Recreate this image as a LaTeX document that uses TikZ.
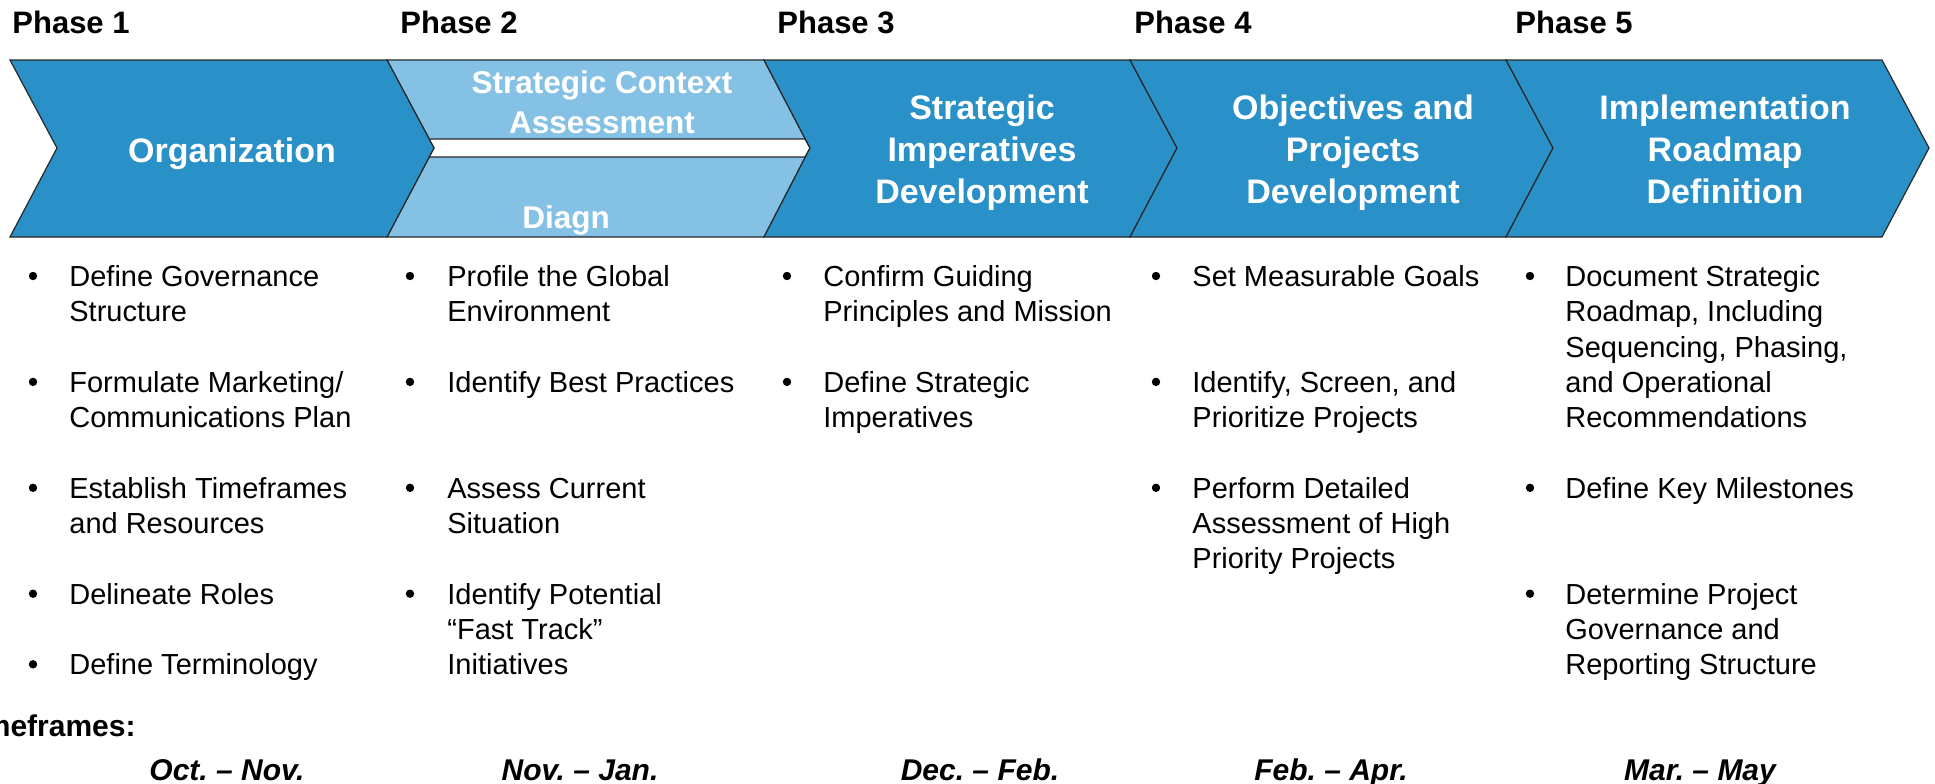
\documentclass[tikz,border=0pt]{standalone}
\usepackage{fontspec}
\setmainfont{Liberation Sans}
\definecolor{phase_blue}{RGB}{41,144,200}
\definecolor{phase_light}{RGB}{132,193,229}
\definecolor{edge_gray}{RGB}{40,40,40}

\begin{document}
\frenchspacing
\begin{tikzpicture}[x=0.5pt,y=-0.5pt]
    \tikzstyle{chev}=[draw=edge_gray, line width=0.6pt, fill=phase_blue]
    \tikzstyle{lite}=[style=chev, fill=phase_light]
    \tikzstyle{title}=[anchor=north, align=center, inner sep=0pt, text=white, font=\bfseries\fontsize{17}{21}\selectfont]
    \tikzstyle{subtitle}=[style=title, font=\bfseries\fontsize{15.75}{20}\selectfont]
    \tikzstyle{phase}=[anchor=base west, inner sep=0pt, font=\bfseries\fontsize{15.5}{18}\selectfont]
    \tikzstyle{dot}=[circle, fill=black, inner sep=0pt, minimum size=4.2pt]
    \tikzstyle{item}=[anchor=north west, align=left, inner sep=0pt, font=\fontsize{14.5}{17.65}\selectfont]
    \tikzstyle{when}=[anchor=base, inner sep=0pt, font=\bfseries\itshape\fontsize{15}{18}\selectfont]

    \useasboundingbox (0,0) rectangle (1935,783);

    \node[phase] (ph1) at (12,33)   {Phase 1};
    \node[phase] (ph2) at (400,33)  {Phase 2};
    \node[phase] (ph3) at (777,33)  {Phase 3};
    \node[phase] (ph4) at (1134,33) {Phase 4};
    \node[phase] (ph5) at (1515,33) {Phase 5};

    \draw[lite] (387,60) -- (764,60) -- (810,148) -- (764,237) -- (387,237) -- (434,148) -- cycle;
    \draw[fill=white, draw=edge_gray, line width=0.6pt]
      (429,139) -- (805,139) -- (810,148) -- (805,157) -- (429,157) -- (434,148) -- cycle;
    \draw[chev] (10,60) -- (387,60) -- (434,148) -- (387,237) -- (10,237) -- (57,148) -- cycle;
    \draw[chev] (764,60) -- (1130,60) -- (1177,148) -- (1130,237) -- (764,237) -- (810,148) -- cycle;
    \draw[chev] (1130,60) -- (1506,60) -- (1553,148) -- (1506,237) -- (1130,237) -- (1177,148) -- cycle;
    \draw[chev] (1506,60) -- (1882,60) -- (1929,148) -- (1882,237) -- (1506,237) -- (1553,148) -- cycle;

    \node[title]    (org)  at (232,133)  {\strut Organization};
    \node[subtitle] (ctx)  at (602,65)   {\strut Strategic Context\\Assessment};
    \node[anchor=base west, inner sep=0pt, text=white, font=\bfseries\fontsize{15.75}{20}\selectfont]
                    (diag) at (522,228)  {Diagn};
    \node[title]    (imp)  at (982,90)   {\strut Strategic\\Imperatives\\Development};
    \node[title]    (obj)  at (1353,90)  {\strut Objectives and\\Projects\\Development};
    \node[title]    (road) at (1725,90)  {\strut Implementation\\Roadmap\\Definition};

    \node[dot]  (d1a) at (33,276)      {};
    \node[item] (i1a) at (69,261.3)    {\strut Define Governance\\Structure};
    \node[dot]  (d1b) at (33,381.9)    {};
    \node[item] (i1b) at (69,367.2)    {\strut Formulate Marketing/\\Communications Plan};
    \node[dot]  (d1c) at (33,487.8)    {};
    \node[item] (i1c) at (69,473.1)    {\strut Establish Timeframes\\and Resources};
    \node[dot]  (d1d) at (33,593.7)    {};
    \node[item] (i1d) at (69,579)      {\strut Delineate Roles};
    \node[dot]  (d1e) at (33,664.3)    {};
    \node[item] (i1e) at (69,649.6)    {\strut Define Terminology};

    \node[dot]  (d2a) at (410,276)     {};
    \node[item] (i2a) at (447,261.3)   {\strut Profile the Global\\Environment};
    \node[dot]  (d2b) at (410,381.9)   {};
    \node[item] (i2b) at (447,367.2)   {\strut Identify Best Practices};
    \node[dot]  (d2c) at (410,487.8)   {};
    \node[item] (i2c) at (447,473.1)   {\strut Assess Current\\Situation};
    \node[dot]  (d2d) at (410,593.7)   {};
    \node[item] (i2d) at (447,579)     {\strut Identify Potential\\``Fast Track''\\Initiatives};

    \node[dot]  (d3a) at (787,276)     {};
    \node[item] (i3a) at (823,261.3)   {\strut Confirm Guiding\\Principles and Mission};
    \node[dot]  (d3b) at (787,381.9)   {};
    \node[item] (i3b) at (823,367.2)   {\strut Define Strategic\\Imperatives};

    \node[dot]  (d4a) at (1156,276)    {};
    \node[item] (i4a) at (1192,261.3)  {\strut Set Measurable Goals};
    \node[dot]  (d4b) at (1156,381.9)  {};
    \node[item] (i4b) at (1192,367.2)  {\strut Identify, Screen, and\\Prioritize Projects};
    \node[dot]  (d4c) at (1156,487.8)  {};
    \node[item] (i4c) at (1192,473.1)  {\strut Perform Detailed\\Assessment of High\\Priority Projects};

    \node[dot]  (d5a) at (1530,276)    {};
    \node[item] (i5a) at (1565,261.3)  {\strut Document Strategic\\Roadmap, Including\\Sequencing, Phasing,\\and Operational\\Recommendations};
    \node[dot]  (d5b) at (1530,487.8)  {};
    \node[item] (i5b) at (1565,473.1)  {\strut Define Key Milestones};
    \node[dot]  (d5c) at (1530,593.7)  {};
    \node[item] (i5c) at (1565,579)    {\strut Determine Project\\Governance and\\Reporting Structure};

    \node[anchor=base east, inner sep=0pt, font=\bfseries\fontsize{15}{18}\selectfont]
                (tf) at (136,736) {Timeframes:};
    \node[when] (w1) at (227,780)  {Oct. -- Nov.};
    \node[when] (w2) at (580,780)  {Nov. -- Jan.};
    \node[when] (w3) at (980,780)  {Dec. -- Feb.};
    \node[when] (w4) at (1331,780) {Feb. -- Apr.};
    \node[when] (w5) at (1700,780) {Mar. -- May};
  \end{tikzpicture}
\end{document}
